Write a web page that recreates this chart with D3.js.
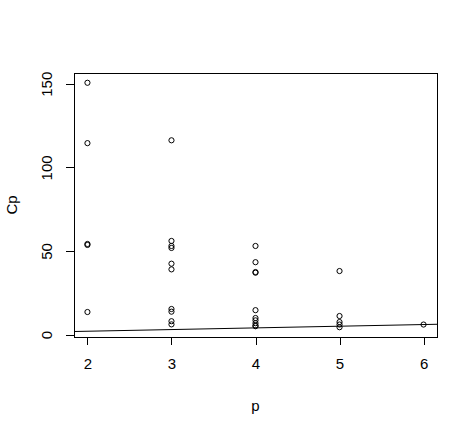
<!DOCTYPE html>
<html>
<head>
<meta charset="utf-8">
<script src="https://cdn.jsdelivr.net/npm/d3@7"></script>
<style>
  body { margin: 0; background: #fff; }
  text { font-family: "Liberation Sans", Arial, sans-serif; }
</style>
</head>
<body>
<div id="chart"></div>
<script>
// Cp values, grouped by number of parameters p
const pValues = [2, 3, 4, 5, 6]
const cpAtP2 = [150.6, 114.5, 54.2, 53.6, 13.5]
const cpAtP3 = [116.2, 56.0, 53.0, 51.8, 42.4, 39.0, 15.3, 13.7, 8.0, 6.1]
const cpAtP4 = [53.0, 43.3, 37.4, 37.0, 14.6, 9.9, 8.5, 6.8, 5.4, 5.0]
const cpAtP5 = [38.0, 11.1, 7.5, 6.0, 4.4]
const cpAtP6 = [6.0]
const xTicks = [2, 3, 4, 5, 6]
const yTicks = [0, 50, 100, 150]

const groups = [cpAtP2, cpAtP3, cpAtP4, cpAtP5, cpAtP6]
const points = []
groups.forEach((g, i) => g.forEach(v => points.push({p: pValues[i], cp: v})))

const fullWidth = 475, fullHeight = 429
const margin = {top: 73, right: 38, bottom: 92, left: 74}
const width = fullWidth - margin.left - margin.right
const height = fullHeight - margin.top - margin.bottom

// R style 4% padding on the data range
function padded(ext) {
  let r = ext[1] - ext[0]
  return [ext[0] - 0.04 * r, ext[1] + 0.04 * r]
}

const xScale = d3.scaleLinear()
    .domain(padded(d3.extent(points, d => d.p)))
    .range([0, width])
const yScale = d3.scaleLinear()
    .domain(padded(d3.extent(points, d => d.cp)))
    .range([height, 0])

const svg = d3.select("#chart").append("svg")
    .attr("width", fullWidth)
    .attr("height", fullHeight)

const g = svg.append("g")
    .attr("transform", `translate(${margin.left},${margin.top})`)

g.append("defs").append("clipPath")
    .attr("id", "plotClip")
    .append("rect")
    .attr("width", width)
    .attr("height", height)

// reference line Cp = p
const lineX = xScale.domain()
g.append("line")
    .attr("clip-path", "url(#plotClip)")
    .attr("x1", xScale(lineX[0])).attr("y1", yScale(lineX[0]))
    .attr("x2", xScale(lineX[1])).attr("y2", yScale(lineX[1]))
    .attr("stroke", "#000")
    .attr("stroke-width", 1)

g.selectAll(".pt")
    .data(points)
    .join("circle")
    .attr("class", "pt")
    .attr("cx", d => xScale(d.p))
    .attr("cy", d => yScale(d.cp))
    .attr("r", 2.6)
    .attr("fill", "none")
    .attr("stroke", "#000")
    .attr("stroke-width", 1)

// axes
const xAxis = d3.axisBottom(xScale).tickValues(xTicks).tickSize(8).tickPadding(13).tickFormat(d3.format("d"))
const yAxis = d3.axisLeft(yScale).tickValues(yTicks).tickSize(8).tickPadding(0)

const xg = g.append("g")
    .attr("transform", `translate(0,${height})`)
    .call(xAxis)
xg.select(".domain")
    .attr("d", `M${xScale(xTicks[0])},0H${xScale(xTicks[xTicks.length - 1])}`)
xg.selectAll("text").attr("font-size", 15).attr("font-family", "Liberation Sans, Arial, sans-serif").attr("fill", "#000")

const yg = g.append("g").call(yAxis)
yg.select(".domain")
    .attr("d", `M0,${yScale(yTicks[0])}V${yScale(yTicks[yTicks.length - 1])}`)
yg.selectAll("text")
    .attr("font-size", 15)
    .attr("font-family", "Liberation Sans, Arial, sans-serif")
    .attr("fill", "#000")
    .attr("text-anchor", "middle")
    .attr("dy", null)
    .attr("x", null)
    .attr("transform", "translate(-26,0) rotate(-90)")
    .attr("y", 0)
yg.selectAll(".tick text").attr("dominant-baseline", "middle")

g.selectAll(".domain, .tick line").attr("stroke", "#000").attr("shape-rendering", "crispEdges")

// plot box
g.append("rect")
    .attr("width", width)
    .attr("height", height)
    .attr("fill", "none")
    .attr("stroke", "#000")
    .attr("shape-rendering", "crispEdges")

// axis titles
svg.append("text")
    .attr("x", margin.left + xScale(4))
    .attr("y", 411)
    .attr("text-anchor", "middle")
    .attr("font-size", 15)
    .text("p")

svg.append("text")
    .attr("transform", `translate(17,${margin.top + height / 2}) rotate(-90)`)
    .attr("text-anchor", "middle")
    .attr("font-size", 15)
    .text("Cp")
</script>
</body>
</html>
